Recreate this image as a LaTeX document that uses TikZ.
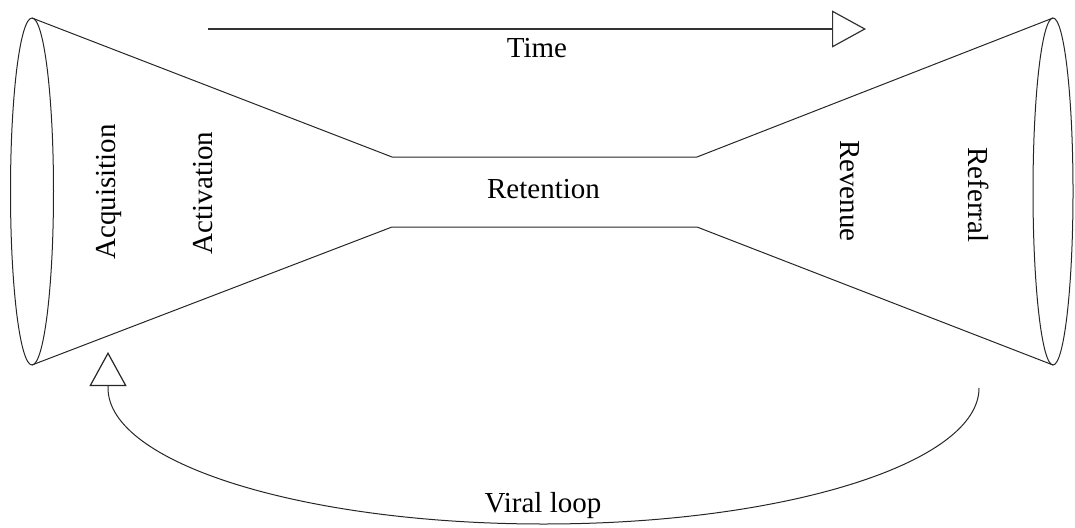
\documentclass[tikz,border=0pt]{standalone}
\usepackage{fontspec}
\setmainfont{Liberation Serif}
\usetikzlibrary{arrows.meta}
\begin{document}
\begin{tikzpicture}[x=1pt,y=-1pt,
  outline/.style={line width=1pt,draw=black!85},
  label/.style={font=\fontsize{29}{31}\selectfont,inner sep=0pt,anchor=base},
  opentip/.style={-{Triangle[open,length=34pt,width=37pt,line width=1.2pt]}}]
\useasboundingbox (0,0) rectangle (1075,527);
% funnel corners
\coordinate (lt) at (32,18);
\coordinate (lb) at (32,365);
\coordinate (mlt) at (392,157);
\coordinate (mlb) at (392,227);
\coordinate (mrt) at (697,157);
\coordinate (mrb) at (697,227);
\coordinate (rt) at (1053,18);
\coordinate (rb) at (1053,365);
\draw[outline] (32,191.5) ellipse [x radius=21.5, y radius=173.5];
\draw[outline] (1053,191.5) ellipse [x radius=20, y radius=173.5];
\draw[outline] (lt) -- (mlt) -- (mrt) -- (rt);
\draw[outline] (lb) -- (mlb) -- (mrb) -- (rb);
% labels
\node[label,rotate=90] (acq) at (115,192) {Acquisition};
\node[label,rotate=90] (act) at (212,193) {Activation};
\node[label] (ret) at (543.5,198) {Retention};
\node[label,rotate=-90] (rev) at (840,191) {Revenue};
\node[label,rotate=-90] (ref) at (968,195) {Referral};
% time arrow
\coordinate (ts) at (208,29);
\coordinate (te) at (866,29);
\draw[line width=1.6pt,draw=black!80,opentip] (ts) -- (te);
\node[label] (time) at (537,57) {Time};
% viral loop
\coordinate (vs) at (979,388);
\coordinate (ve) at (108,352);
\draw[outline,opentip] (vs) arc[start angle=0,end angle=180,x radius=435.5,y radius=136] -- (ve);
\node[label] (viral) at (543,512) {Viral loop};
\end{tikzpicture}
\end{document}
